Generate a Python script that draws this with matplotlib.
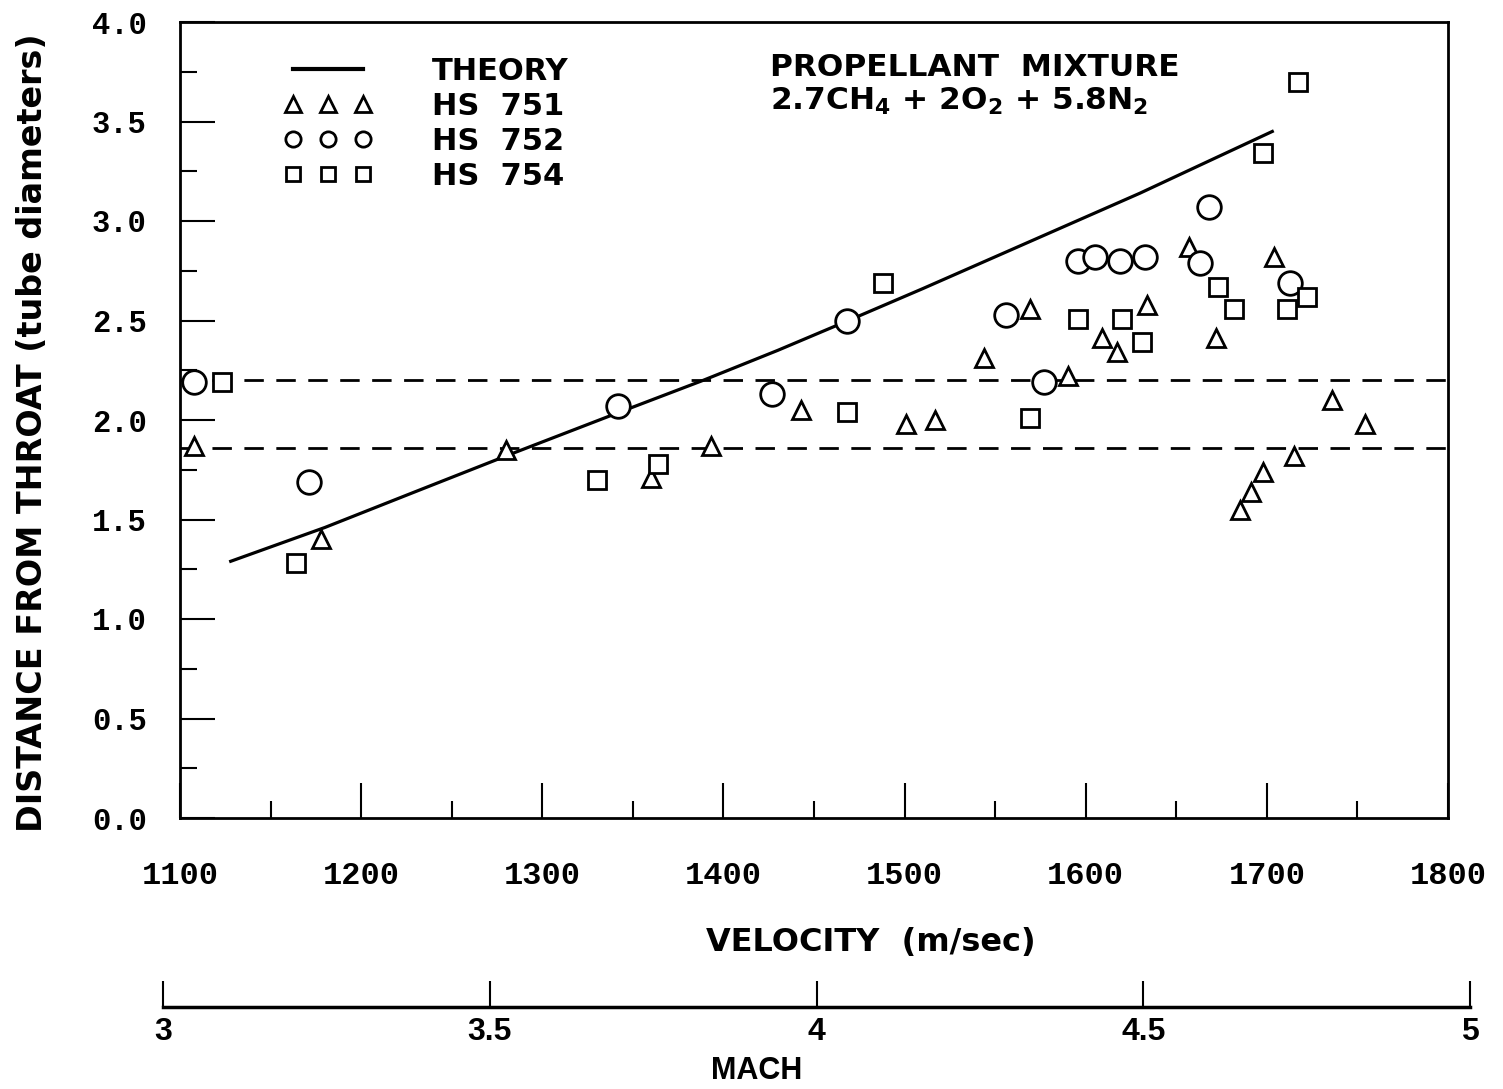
"""
Distance from throat vs velocity (HS 751 / 752 / 754) with theory curve
"""
import matplotlib
matplotlib.use("Agg")
import matplotlib.pyplot as plt
from matplotlib.lines import Line2D

plt.rcParams['font.family'] = ['DejaVu Sans']
plt.rcParams['font.weight'] = 'bold'
plt.rcParams['mathtext.fontset'] = 'custom'
plt.rcParams['mathtext.rm'] = 'DejaVu Sans:bold'
plt.rcParams['mathtext.default'] = 'rm'

# theory curve
theory_v = [1128, 1180, 1230, 1283, 1340, 1389, 1430, 1469, 1510, 1550, 1590, 1630, 1670, 1703]
theory_d = [1.29, 1.46, 1.64, 1.83, 2.03, 2.20, 2.35, 2.50, 2.66, 2.82, 2.98, 3.14, 3.31, 3.45]

# HS 751 (triangles)
hs751_v = [1108, 1178, 1280, 1360, 1393, 1443, 1501, 1517, 1544, 1569, 1590, 1609,
           1617, 1634, 1657, 1672, 1704, 1736, 1754, 1715, 1698, 1691, 1685]
hs751_d = [1.87, 1.40, 1.85, 1.71, 1.87, 2.05, 1.98, 2.00, 2.31, 2.56, 2.22, 2.41,
           2.34, 2.58, 2.87, 2.41, 2.82, 2.10, 1.98, 1.82, 1.74, 1.64, 1.55]

# HS 752 (circles)
hs752_v = [1108, 1171, 1342, 1427, 1468, 1556, 1577, 1596, 1605, 1619, 1633, 1663, 1668, 1713]
hs752_d = [2.19, 1.69, 2.07, 2.13, 2.50, 2.53, 2.19, 2.80, 2.82, 2.80, 2.82, 2.79, 3.07, 2.69]

# HS 754 (squares)
hs754_v = [1123, 1164, 1330, 1364, 1468, 1488, 1569, 1596, 1620, 1631, 1673, 1682,
           1711, 1722, 1698, 1717]
hs754_d = [2.19, 1.28, 1.70, 1.78, 2.04, 2.69, 2.01, 2.51, 2.51, 2.39, 2.67, 2.56,
           2.56, 2.62, 3.34, 3.70]

# reference levels (dashed)
levels = [2.20, 1.86]

x_ticks = [1100, 1200, 1300, 1400, 1500, 1600, 1700, 1800]
x_minor = [1150, 1250, 1350, 1450, 1550, 1650, 1750]
y_ticks = [0.0, 0.5, 1.0, 1.5, 2.0, 2.5, 3.0, 3.5, 4.0]
y_minor = [0.25, 0.75, 1.25, 1.75, 2.25, 2.75, 3.25, 3.75]
mach_ticks = [3, 3.5, 4, 4.5, 5]

W, H = 1503, 1089
fig = plt.figure(figsize=(W / 100, H / 100), dpi=100)
ax = fig.add_axes([180 / W, (H - 818) / H, (1448 - 180) / W, (818 - 22) / H])

ax.plot(theory_v, theory_d, color='black', lw=2.3)
for lv in levels:
    ax.axhline(lv, color='black', lw=2, linestyle=(0, (7, 4.5)))

mk = dict(linestyle='none', markerfacecolor='white', markeredgecolor='black', markeredgewidth=2)
ax.plot(hs751_v, hs751_d, marker='^', markersize=13, **mk)
ax.plot(hs752_v, hs752_d, marker='o', markersize=17, **mk)
ax.plot(hs754_v, hs754_d, marker='s', markersize=12.5, **mk)

ax.set_xlim(1100, 1800)
ax.set_ylim(0, 4.0)
ax.set_xticks(x_ticks)
ax.set_xticks(x_minor, minor=True)
ax.set_yticks(y_ticks)
ax.set_yticks(y_minor, minor=True)
ax.set_yticklabels([f"{v:.1f}" for v in y_ticks], family='Liberation Mono', fontsize=22, weight='bold')
ax.set_xticklabels([str(v) for v in x_ticks], family='Liberation Mono', fontsize=23, weight='bold')
ax.tick_params(which='major', direction='in', length=25, width=1.5)
ax.tick_params(which='minor', direction='in', length=12, width=1.5)
ax.tick_params(axis='x', which='major', pad=31)
ax.tick_params(axis='y', which='major', pad=24)
for s in ax.spines.values():
    s.set_linewidth(2)

# legend
handles = [
    Line2D([], [], color='black', lw=3),
    Line2D([], [], marker='^', markersize=11, **mk),
    Line2D([], [], marker='o', markersize=11, **mk),
    Line2D([], [], marker='s', markersize=10, **mk),
]
labels = ['THEORY', 'HS  751', 'HS  752', 'HS  754']
leg = ax.legend(handles, labels, loc='upper left', bbox_to_anchor=(0.06, 0.991),
                frameon=False, numpoints=3, handlelength=2.9, handletextpad=1.95,
                labelspacing=0.2, prop={'size': 22, 'weight': 'bold'})

ax.text(0.465, 0.932, 'PROPELLANT  MIXTURE', transform=ax.transAxes,
        fontsize=22.5, weight='bold', va='baseline', ha='left')
ax.text(0.465, 0.889, r'2.7CH$_4$ + 2O$_2$ + 5.8N$_2$', transform=ax.transAxes,
        fontsize=22.5, weight='bold', va='baseline', ha='left')

fig.text(871 / W, 1 - 943 / H, 'VELOCITY  (m/sec)', fontsize=23, weight='bold',
         ha='center', va='center')
fig.text(33 / W, 1 - 433 / H, 'DISTANCE FROM THROAT (tube diameters)', fontsize=24,
         weight='bold', rotation=90, ha='center', va='center')

# Mach scale
mx = fig.add_axes([163 / W, (H - 1007) / H, (1470 - 163) / W, 0.0001])
mx.set_xlim(3, 5)
mx.set_ylim(0, 1)
mx.set_yticks([])
mx.set_xticks(mach_ticks)
mx.set_xticklabels([f"{m:g}" for m in mach_ticks], family='Liberation Sans', fontsize=23, weight='bold')
mx.tick_params(axis='x', direction='in', length=19, width=1.5, pad=7)
for k in ['top', 'left', 'right']:
    mx.spines[k].set_visible(False)
mx.spines['bottom'].set_linewidth(2.5)
fig.text(757 / W, 1 - 1071 / H, 'MACH', family='Liberation Sans', fontsize=22,
         weight='bold', ha='center', va='center')

fig.savefig('out.png', dpi=100)
